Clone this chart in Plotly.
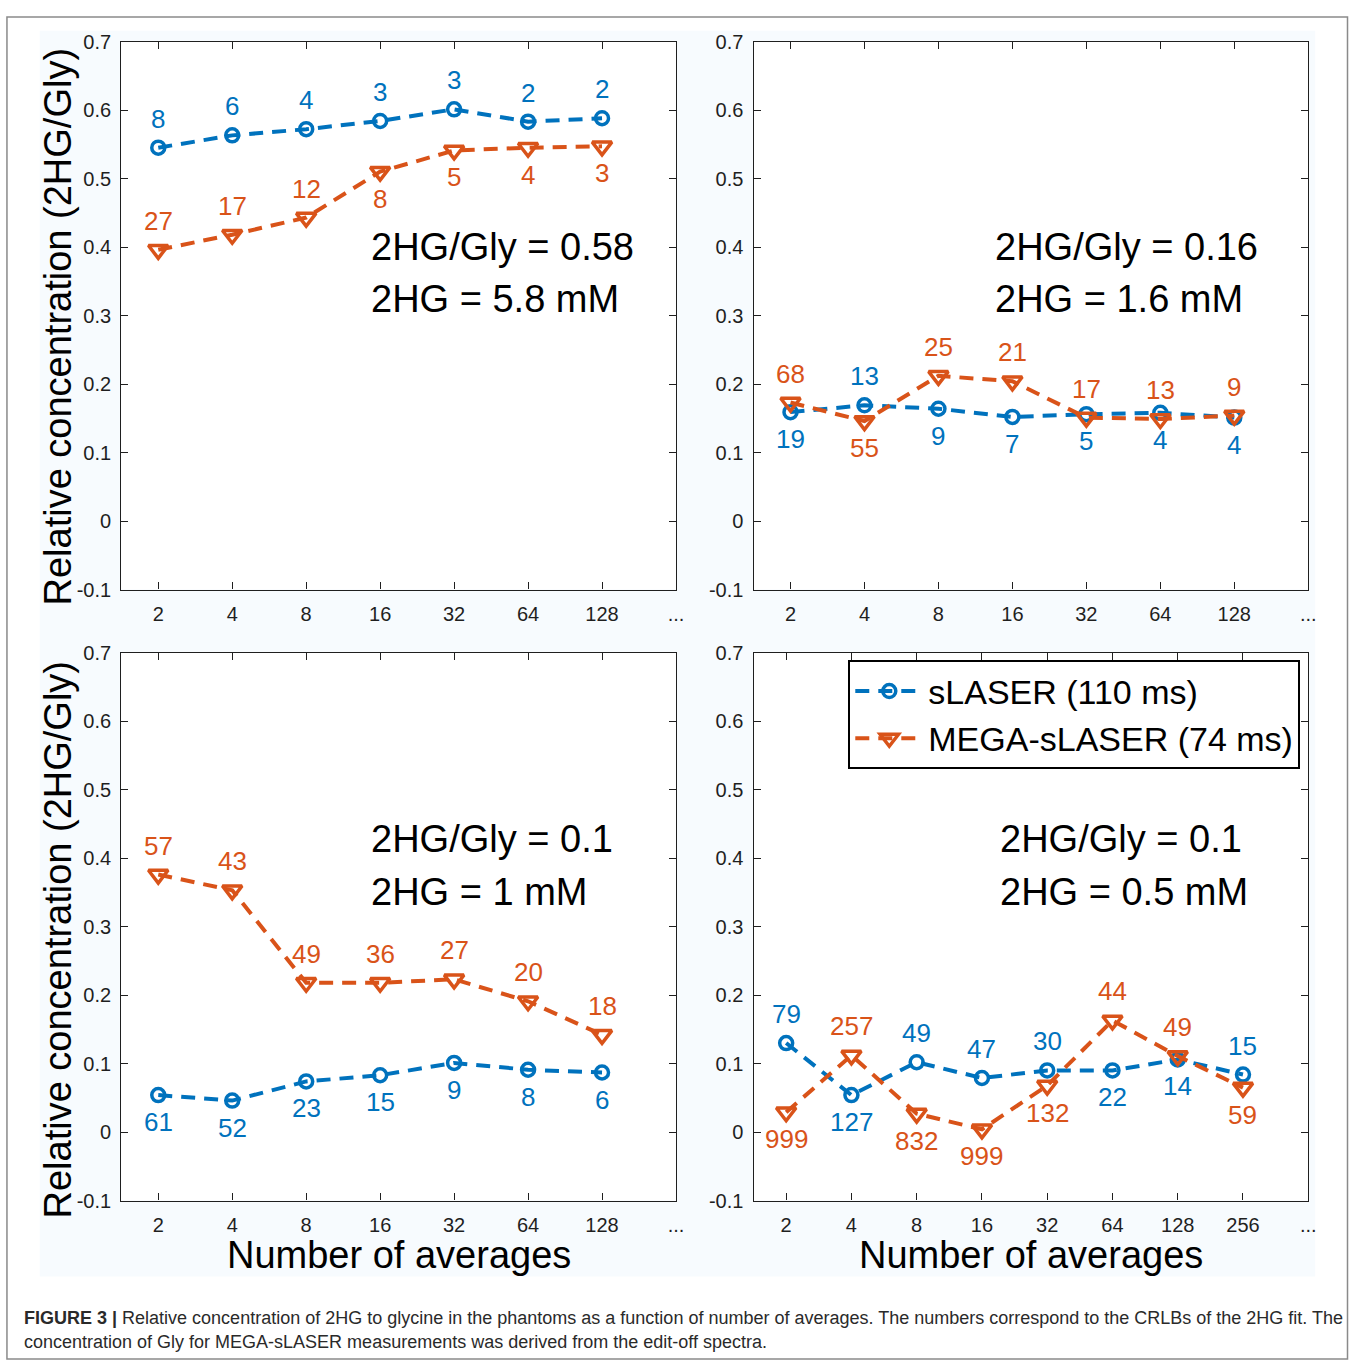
import plotly.graph_objects as go

# ---------------- data ----------------
x_labels_abc = ["2", "4", "8", "16", "32", "64", "128", "..."]
x_labels_d = ["2", "4", "8", "16", "32", "64", "128", "256", "..."]

p1_slaser = [0.545, 0.563, 0.572, 0.584, 0.601, 0.583, 0.588]
p1_mega = [0.396, 0.418, 0.443, 0.510, 0.541, 0.545, 0.547]
p1_slaser_crlb = [8, 6, 4, 3, 3, 2, 2]
p1_mega_crlb = [27, 17, 12, 8, 5, 4, 3]
p1_slaser_side = ["u", "u", "u", "u", "u", "u", "u"]
p1_mega_side = ["u", "u", "u", "d", "d", "d", "d"]

p2_slaser = [0.159, 0.169, 0.164, 0.152, 0.156, 0.158, 0.151]
p2_mega = [0.173, 0.146, 0.212, 0.204, 0.151, 0.149, 0.154]
p2_slaser_crlb = [19, 13, 9, 7, 5, 4, 4]
p2_mega_crlb = [68, 55, 25, 21, 17, 13, 9]
p2_slaser_side = ["d", "u", "d", "d", "d", "d", "d"]
p2_mega_side = ["u", "d", "u", "u", "u", "u", "u"]

p3_slaser = [0.054, 0.046, 0.074, 0.083, 0.101, 0.091, 0.087]
p3_mega = [0.376, 0.353, 0.218, 0.218, 0.223, 0.191, 0.142]
p3_slaser_crlb = [61, 52, 23, 15, 9, 8, 6]
p3_mega_crlb = [57, 43, 49, 36, 27, 20, 18]
p3_slaser_side = ["d", "d", "d", "d", "d", "d", "d"]
p3_mega_side = ["u", "u", "u", "u", "u", "u", "u"]

p4_slaser = [0.130, 0.054, 0.102, 0.079, 0.090, 0.090, 0.106, 0.084]
p4_mega = [0.029, 0.112, 0.027, 0.004, 0.068, 0.163, 0.111, 0.065]
p4_slaser_crlb = [79, 127, 49, 47, 30, 22, 14, 15]
p4_mega_crlb = [999, 257, 832, 999, 132, 44, 49, 59]
p4_slaser_side = ["u", "d", "u", "u", "u", "d", "d", "u"]
p4_mega_side = ["d", "u", "d", "d", "d", "u", "u", "d"]

panel_text = [
    ("2HG/Gly = 0.58", "2HG = 5.8 mM"),
    ("2HG/Gly = 0.16", "2HG = 1.6 mM"),
    ("2HG/Gly = 0.1", "2HG = 1 mM"),
    ("2HG/Gly = 0.1", "2HG = 0.5 mM"),
]

y_ticks = [-0.1, 0, 0.1, 0.2, 0.3, 0.4, 0.5, 0.6, 0.7]
y_tick_text = ["-0.1", "0", "0.1", "0.2", "0.3", "0.4", "0.5", "0.6", "0.7"]

series_names = ["sLASER (110 ms)", "MEGA-sLASER (74 ms)"]

# ---------------- style ----------------
W, H = 1357, 1372
BLUE = "#0072BD"
ORANGE = "#D95319"
AX = "#1f1f1f"
FONT = "Liberation Sans, Arial, Helvetica, sans-serif"


def px_x(p):
    return p / W


def px_y(p):
    return 1 - p / H


panels = [
    dict(box=(122, 680, 31, 588), labels=x_labels_abc,
         s=p1_slaser, m=p1_mega, sc=p1_slaser_crlb, mc=p1_mega_crlb,
         ss=p1_slaser_side, ms=p1_mega_side, txt_x=371, txt_y=(240, 293)),
    dict(box=(758, 1316, 31, 588), labels=x_labels_abc,
         s=p2_slaser, m=p2_mega, sc=p2_slaser_crlb, mc=p2_mega_crlb,
         ss=p2_slaser_side, ms=p2_mega_side, txt_x=999, txt_y=(240, 293)),
    dict(box=(122, 680, 652, 1209), labels=x_labels_abc,
         s=p3_slaser, m=p3_mega, sc=p3_slaser_crlb, mc=p3_mega_crlb,
         ss=p3_slaser_side, ms=p3_mega_side, txt_x=371, txt_y=(842, 895)),
    dict(box=(758, 1316, 652, 1209), labels=x_labels_d,
         s=p4_slaser, m=p4_mega, sc=p4_slaser_crlb, mc=p4_mega_crlb,
         ss=p4_slaser_side, ms=p4_mega_side, txt_x=1004, txt_y=(842, 895)),
]

fig = go.Figure()
layout = dict(
    width=W, height=H,
    margin=dict(l=0, r=0, t=0, b=0),
    paper_bgcolor="white",
    plot_bgcolor="white",
    font=dict(family=FONT, color=AX),
    showlegend=True,
)
annotations = []
shapes = []

# tinted figure area and outer frame
shapes.append(dict(type="rect", xref="paper", yref="paper",
                   x0=px_x(40), x1=px_x(1323), y0=px_y(1286), y1=px_y(20),
                   fillcolor="#f7fbfe", line=dict(width=0), layer="below"))
shapes.append(dict(type="rect", xref="paper", yref="paper",
                   x0=px_x(7), x1=px_x(1355.5), y0=px_y(1370), y1=px_y(6),
                   fillcolor="rgba(0,0,0,0)", line=dict(color="#8a8a8a", width=1.5)))

for i, p in enumerate(panels):
    k = "" if i == 0 else str(i + 1)
    xa, ya = "x" + k, "y" + k
    x0, x1, yt, yb = p["box"]
    labels = p["labels"]
    n = len(labels) - 1
    xs = list(range(1, n + 1))

    # white plotting area above the tinted figure background
    shapes.append(dict(type="rect", xref=xa + " domain", yref=ya + " domain",
                       x0=0, x1=1, y0=0, y1=1, fillcolor="white",
                       line=dict(width=0), layer="below"))

    layout["xaxis" + k] = dict(
        domain=[px_x(x0), px_x(x1)], anchor=ya,
        range=[0.5, n + 1], tickvals=list(range(1, n + 2)), ticktext=labels,
        ticks="inside", ticklen=7, tickwidth=1, tickcolor=AX,
        showline=True, linecolor=AX, linewidth=1.3, mirror="ticks",
        showgrid=False, zeroline=False,
        tickfont=dict(size=20, color=AX, family=FONT),
        ticklabelstandoff=6,
    )
    layout["yaxis" + k] = dict(
        domain=[px_y(yb), px_y(yt)], anchor=xa,
        range=[-0.1, 0.7], tickvals=y_ticks, ticktext=y_tick_text,
        ticks="inside", ticklen=7, tickwidth=1, tickcolor=AX,
        showline=True, linecolor=AX, linewidth=1.3, mirror="ticks",
        showgrid=False, zeroline=False,
        tickfont=dict(size=20, color=AX, family=FONT),
        ticklabelstandoff=5,
    )

    fig.add_trace(go.Scatter(
        x=xs, y=p["s"], xaxis=xa, yaxis=ya, mode="lines+markers",
        name=series_names[0], showlegend=(i == 3), legendrank=1,
        line=dict(color=BLUE, width=4, dash="14px,9px"),
        marker=dict(symbol="circle-open", size=13, color=BLUE,
                    line=dict(width=3.5, color=BLUE)),
        cliponaxis=False,
    ))
    fig.add_trace(go.Scatter(
        x=xs, y=p["m"], xaxis=xa, yaxis=ya, mode="lines+markers",
        name=series_names[1], showlegend=(i == 3), legendrank=2,
        line=dict(color=ORANGE, width=4, dash="14px,9px"),
        marker=dict(symbol="triangle-down-open", size=17, color=ORANGE,
                    line=dict(width=3.5, color=ORANGE)),
        cliponaxis=False,
    ))

    # CRLB labels
    for vals, crlb, side, col in ((p["s"], p["sc"], p["ss"], BLUE),
                                   (p["m"], p["mc"], p["ms"], ORANGE)):
        for xv, yv, c, sd in zip(xs, vals, crlb, side):
            annotations.append(dict(
                x=xv, y=yv, xref=xa, yref=ya, text=str(c), showarrow=False,
                xanchor="center", yanchor="middle",
                yshift=29 if sd == "u" else -27,
                font=dict(size=26, color=col, family=FONT),
            ))

    # concentration text
    for line_txt, ty in zip(panel_text[i], p["txt_y"]):
        annotations.append(dict(
            x=px_x(p["txt_x"]), y=px_y(ty), xref="paper", yref="paper",
            text=line_txt, showarrow=False, xanchor="left", yanchor="middle",
            font=dict(size=38, color="black", family=FONT),
        ))

# y-axis titles
for yc in (321, 944):
    annotations.append(dict(
        x=px_x(58), y=px_y(yc), xref="paper", yref="paper",
        text="Relative concentration (2HG/Gly)", textangle=-90,
        showarrow=False, xanchor="center", yanchor="middle",
        font=dict(size=38, color="black", family=FONT),
    ))
# x-axis titles
for xc in (401, 1037):
    annotations.append(dict(
        x=px_x(xc), y=px_y(1264), xref="paper", yref="paper",
        text="Number of averages", showarrow=False,
        xanchor="center", yanchor="middle",
        font=dict(size=38, color="black", family=FONT),
    ))

# caption
annotations.append(dict(
    x=px_x(22), y=px_y(1328), xref="paper", yref="paper",
    text="<b>FIGURE 3 |</b> Relative concentration of 2HG to glycine in the phantoms as a function of number of averages. The numbers correspond to the CRLBs of the 2HG fit. The",
    showarrow=False, xanchor="left", yanchor="middle",
    font=dict(size=18, color="#2a2a2a", family=FONT),
))
annotations.append(dict(
    x=px_x(22), y=px_y(1353), xref="paper", yref="paper",
    text="concentration of Gly for MEGA-sLASER measurements was derived from the edit-off spectra.",
    showarrow=False, xanchor="left", yanchor="middle",
    font=dict(size=18, color="#2a2a2a", family=FONT),
))

layout["annotations"] = annotations
layout["shapes"] = shapes
layout["legend"] = dict(
    x=px_x(1308), y=px_y(660), xanchor="right", yanchor="top",
    bgcolor="white", bordercolor="black", borderwidth=2,
    font=dict(size=34, color="black", family=FONT),
    itemwidth=68, tracegroupgap=0,
)
fig.update_layout(**layout)
fig.write_html("out.html", config={"displayModeBar": False},
               post_script="document.body.style.margin='0px';")
